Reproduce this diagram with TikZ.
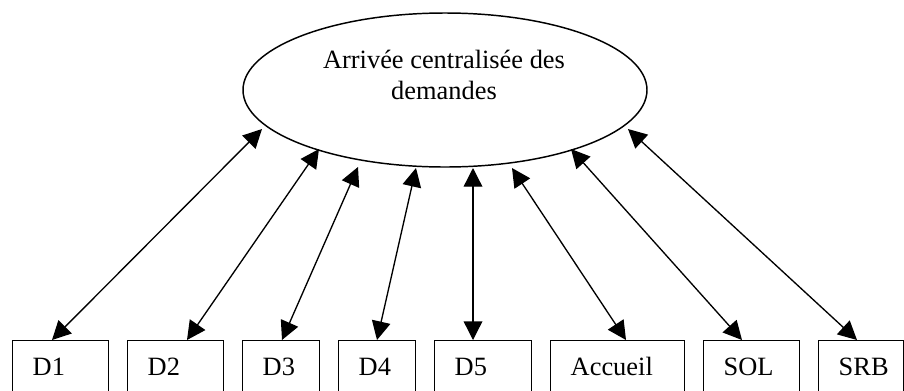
\documentclass[tikz,border=0pt]{standalone}
\usepackage{fontspec}
\setmainfont{Liberation Serif}
\usetikzlibrary{arrows.meta,calc,shapes.geometric}
\newdimen\px \px=0.75pt
\begin{document}
\begin{tikzpicture}[x=0.75pt,y=-0.75pt,
  every node/.style={font={\fontsize{19.8pt}{23.25pt}\selectfont}},
  hubnode/.style={draw,ellipse,line width=1.1pt,inner sep=0pt,minimum width=404\px,minimum height=154\px},
  boxnode/.style={draw,rectangle,line width=1.1pt,anchor=north west,align=left,
    inner xsep=20\px,inner ysep=0pt,text height=35\px,text depth=45\px,text width=#1},
  link/.style={line width=1pt,{Triangle[length=14pt,width=14pt]}-{Triangle[length=14pt,width=14pt]}}]
\clip (0,0) rectangle (904,390);
\node[hubnode] (hub) at (445,90) {};
\node[align=center,inner sep=0pt] (hubtext) at (444,75) {Arrivée centralisée des\\demandes};
% services along the bottom
\node[boxnode=56\px] (d1) at (12,340) {D1};
\node[boxnode=56\px] (d2) at (127,340) {D2};
\node[boxnode=37\px] (d3) at (242,340) {D3};
\node[boxnode=37\px] (d4) at (338,340) {D4};
\node[boxnode=57\px] (d5) at (434,340) {D5};
\node[boxnode=94\px] (accueil) at (550,340) {Accueil};
\node[boxnode=56\px] (sol) at (703,340) {SOL};
\node[boxnode=45\px] (srb) at (818,340) {SRB};
% ends under the ellipse
\coordinate (e1) at (262,129);
\coordinate (e2) at (319,149);
\coordinate (e3) at (358,167);
\coordinate (e4) at (416,168);
\coordinate (e5) at (473,168);
\coordinate (e6) at (512,168);
\coordinate (e7) at (571,149);
\coordinate (e8) at (628,129);
\draw[link] (e1) -- ($(d1.north west)+(40,0)$);
\draw[link] (e2) -- ($(d2.north west)+(60,0)$);
\draw[link] (e3) -- ($(d3.north west)+(40,0)$);
\draw[link] (e4) -- ($(d4.north west)+(39,0)$);
\draw[link] (e5) -- ($(d5.north west)+(39,0)$);
\draw[link] (e6) -- ($(accueil.north west)+(76,0)$);
\draw[link] (e7) -- ($(sol.north west)+(39,0)$);
\draw[link] (e8) -- ($(srb.north west)+(39,0)$);
\end{tikzpicture}
\end{document}
